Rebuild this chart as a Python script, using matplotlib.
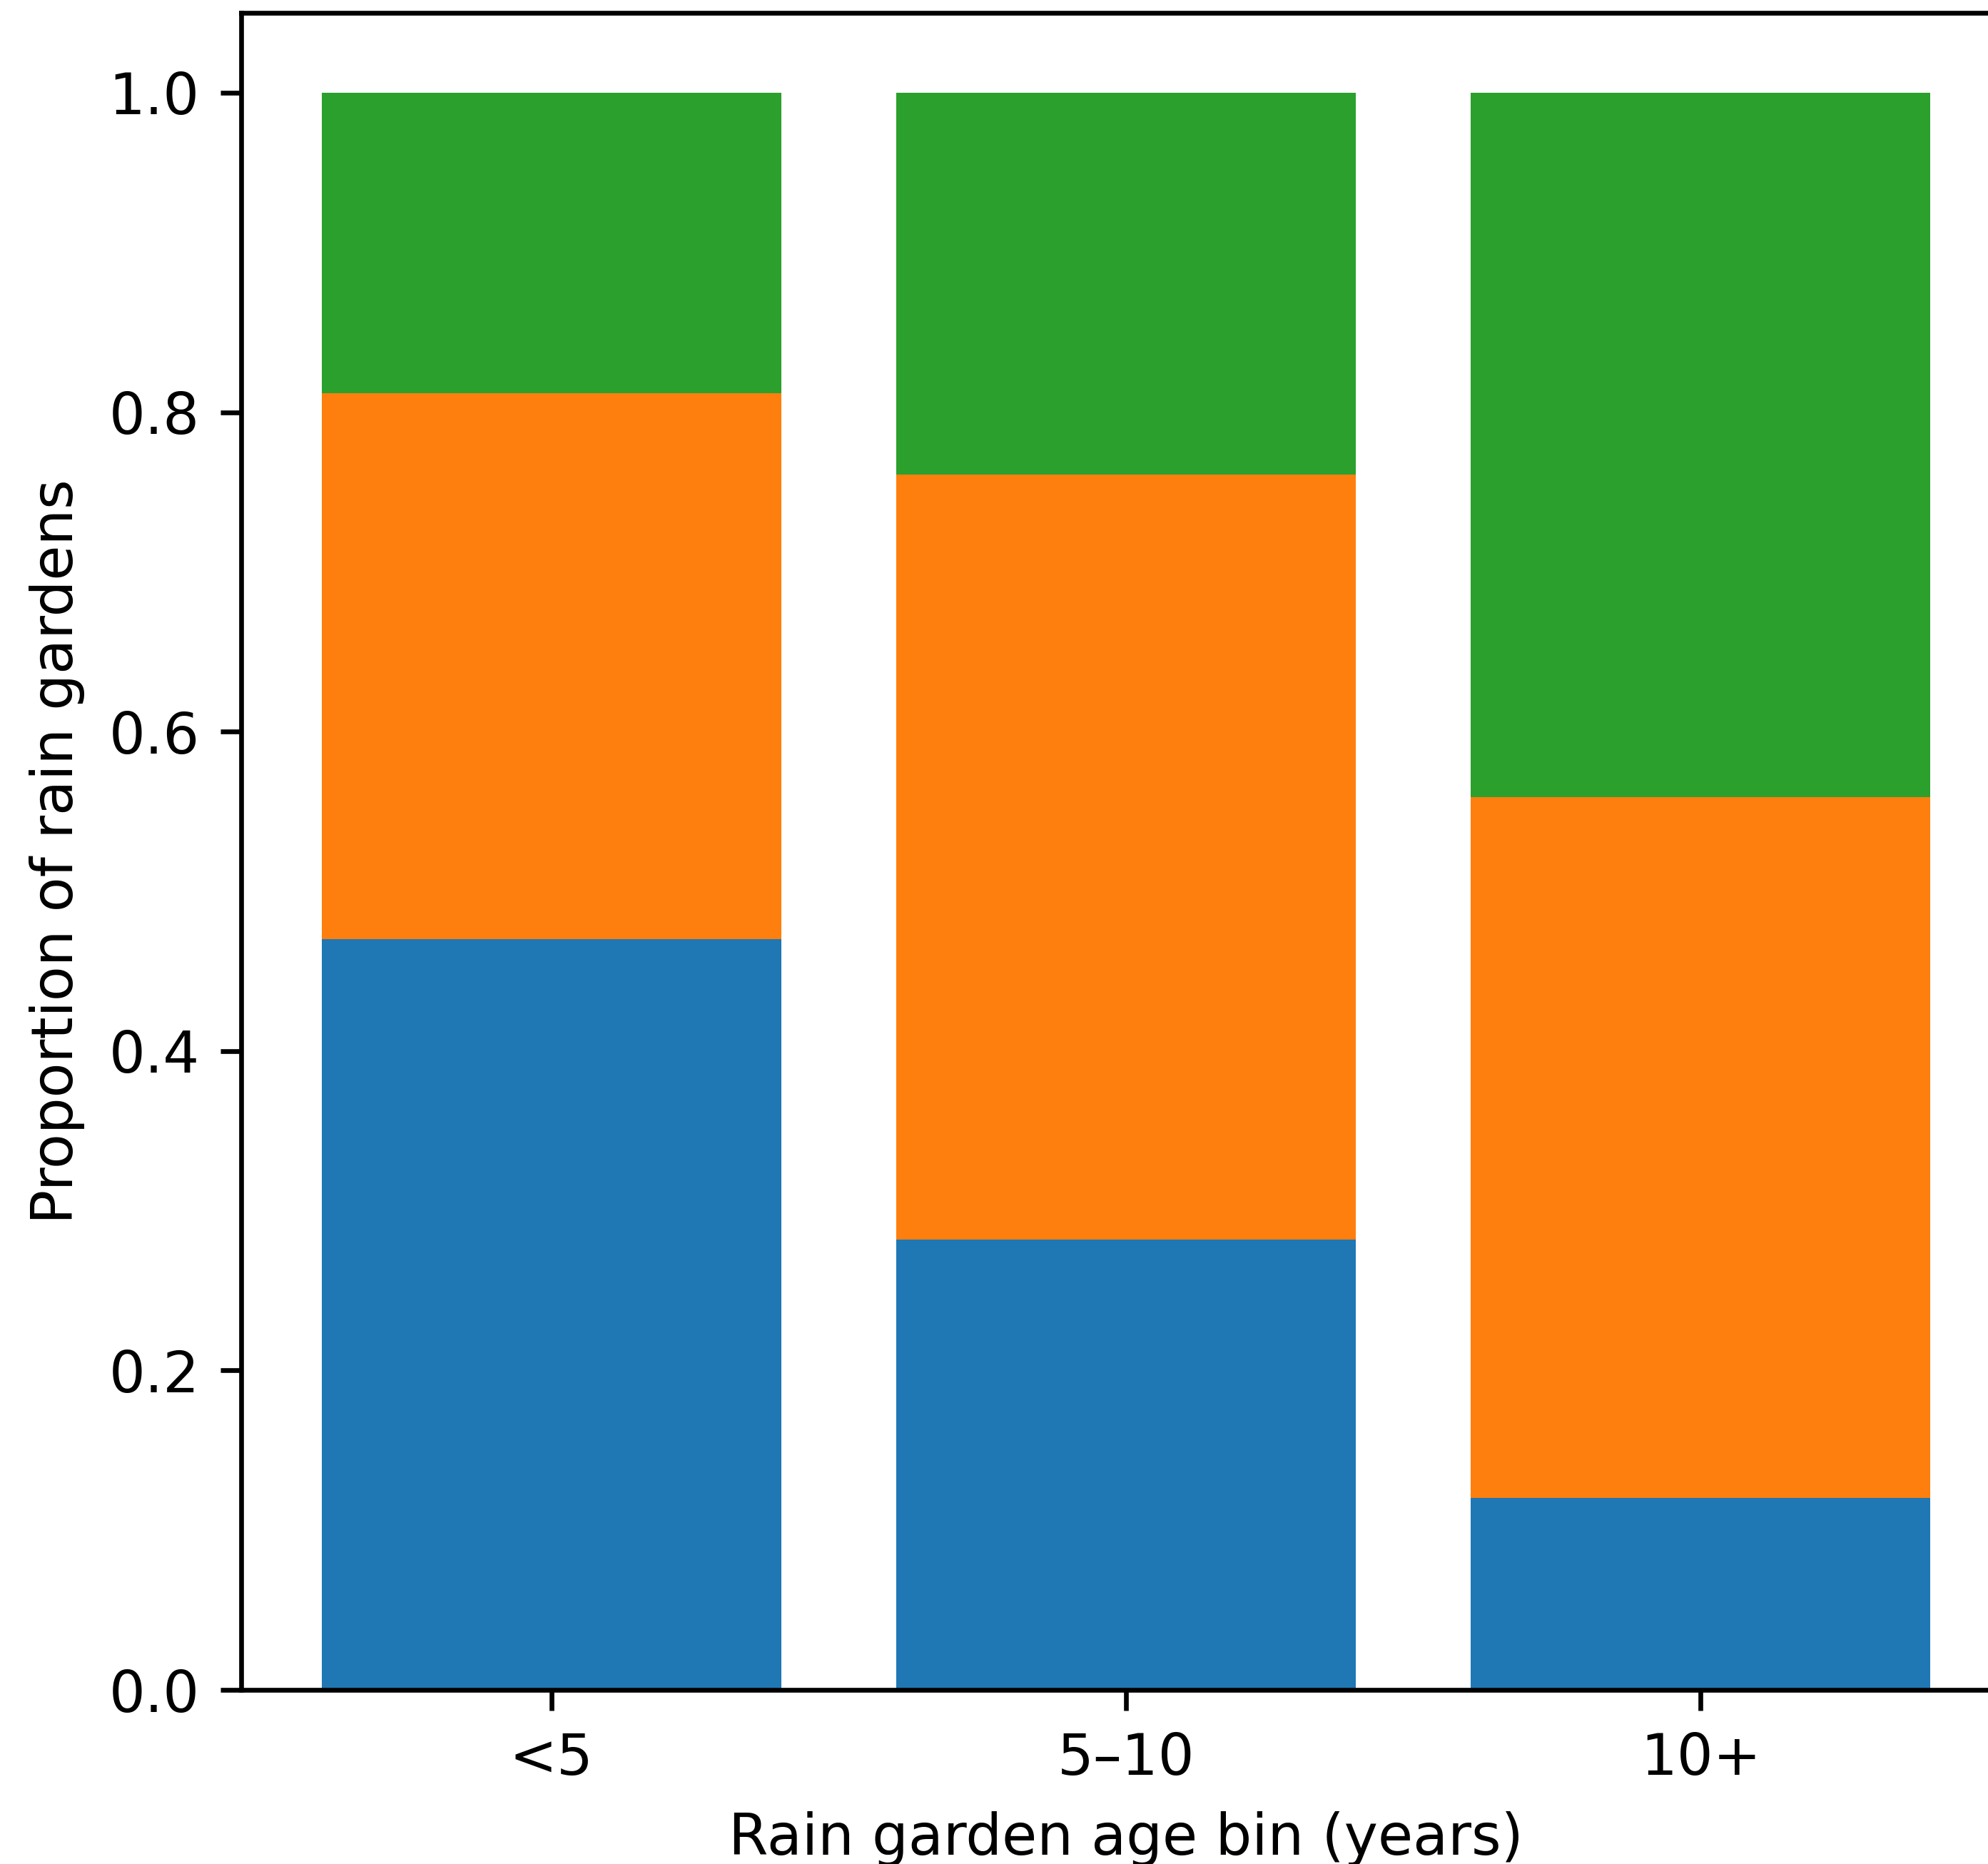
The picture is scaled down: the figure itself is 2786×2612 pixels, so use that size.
import matplotlib
matplotlib.use("Agg")
import matplotlib.pyplot as plt
import numpy as np

categories = ["<5", "5–10", "10+"]
series_names = ["Series A", "Series B", "Series C"]
series_a = [0.47, 0.282, 0.12]
series_b = [0.342, 0.479, 0.439]
series_c = [0.188, 0.239, 0.441]
colors = ["#1f77b4", "#ff7f0e", "#2ca02c"]

plt.rcParams["font.size"] = 9.6

fig = plt.figure(figsize=(2787 / 600, 2612 / 600), dpi=600)
ax = fig.add_axes([338 / 2787, 1 - 2368 / 2612, (2818 - 338) / 2787, (2368 - 18) / 2612])

x = np.arange(len(categories))
bottom = np.zeros(len(categories))
for name, vals, c in zip(series_names, [series_a, series_b, series_c], colors):
    ax.bar(x, vals, bottom=bottom, color=c, label=name, width=0.8)
    bottom += np.array(vals)

ax.set_xticks(x)
ax.set_xticklabels(categories)
ax.set_xlabel("Rain garden age bin (years)")
ax.set_ylabel("Proportion of rain gardens")

fig.savefig("out.png", dpi=600)
